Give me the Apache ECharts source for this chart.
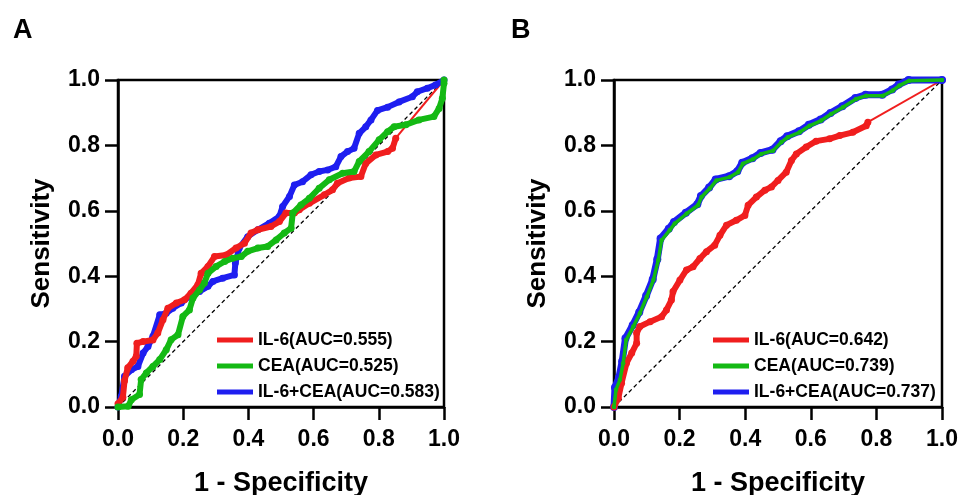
<!DOCTYPE html>
<html>
<head>
<meta charset="utf-8">
<script src="https://cdn.jsdelivr.net/npm/echarts@6/dist/echarts.min.js"></script>
<style>
html, body { margin: 0; background: #fff; }
#main { width: 960px; height: 495px; }
</style>
</head>
<body>
<div id="main"></div>
<script>
// tick values shared by both axes of both panels
const ticks = [0.0, 0.2, 0.4, 0.6, 0.8, 1.0]

// panel A legend names
const namesA = ['IL-6(AUC=0.555)', 'CEA(AUC=0.525)', 'IL-6+CEA(AUC=0.583)']
// panel B legend names
const namesB = ['IL-6(AUC=0.642)', 'CEA(AUC=0.739)', 'IL-6+CEA(AUC=0.737)']

// ROC points, [1 - specificity, sensitivity]
const il6A = [[0, 0.01], [0.015, 0.03], [0.02, 0.08], [0.03, 0.12], [0.046, 0.14], [0.056, 0.155], [0.058, 0.195],
  [0.077, 0.2], [0.107, 0.205], [0.122, 0.226], [0.138, 0.267], [0.153, 0.302], [0.179, 0.318], [0.204, 0.328],
  [0.224, 0.348], [0.245, 0.374], [0.255, 0.409], [0.276, 0.43], [0.296, 0.46], [0.332, 0.465], [0.362, 0.486],
  [0.388, 0.501], [0.408, 0.532], [0.429, 0.542], [0.469, 0.552], [0.495, 0.567], [0.515, 0.593], [0.541, 0.593],
  [0.556, 0.603], [0.587, 0.623], [0.633, 0.649], [0.658, 0.664], [0.673, 0.684], [0.709, 0.7], [0.745, 0.705],
  [0.76, 0.745], [0.791, 0.771], [0.827, 0.781], [0.842, 0.791], [0.852, 0.822]]
const il6TailA = [[0.852, 0.822], [1, 1]]
const ceaA = [[0, 0], [0.031, 0.002], [0.041, 0.022], [0.066, 0.038], [0.071, 0.084], [0.087, 0.104], [0.107, 0.124],
  [0.128, 0.145], [0.148, 0.175], [0.163, 0.206], [0.184, 0.221], [0.199, 0.277], [0.219, 0.297], [0.23, 0.333],
  [0.25, 0.358], [0.265, 0.379], [0.276, 0.409], [0.301, 0.43], [0.327, 0.445], [0.352, 0.455], [0.378, 0.46],
  [0.398, 0.476], [0.429, 0.486], [0.459, 0.491], [0.485, 0.511], [0.51, 0.532], [0.531, 0.547], [0.536, 0.593],
  [0.561, 0.618], [0.587, 0.638], [0.617, 0.669], [0.648, 0.695], [0.689, 0.715], [0.724, 0.72], [0.74, 0.751],
  [0.77, 0.781], [0.801, 0.817], [0.827, 0.842], [0.847, 0.857], [0.883, 0.863], [0.923, 0.878], [0.969, 0.888],
  [0.985, 0.913], [0.995, 0.944], [1, 0.99], [1, 1]]
const bothA = [[0, 0], [0.01, 0.033], [0.02, 0.094], [0.041, 0.114], [0.061, 0.124], [0.077, 0.165], [0.092, 0.185],
  [0.107, 0.216], [0.128, 0.282], [0.148, 0.287], [0.168, 0.302], [0.194, 0.318], [0.224, 0.343], [0.25, 0.353],
  [0.276, 0.369], [0.291, 0.384], [0.321, 0.394], [0.357, 0.404], [0.36, 0.44], [0.372, 0.486], [0.398, 0.521],
  [0.429, 0.542], [0.464, 0.562], [0.495, 0.583], [0.505, 0.613], [0.526, 0.644], [0.541, 0.679], [0.566, 0.689],
  [0.592, 0.71], [0.617, 0.72], [0.643, 0.725], [0.668, 0.735], [0.684, 0.766], [0.704, 0.781], [0.724, 0.791],
  [0.74, 0.837], [0.76, 0.857], [0.776, 0.878], [0.796, 0.907], [0.827, 0.917], [0.862, 0.933], [0.903, 0.949],
  [0.918, 0.964], [0.949, 0.975], [0.974, 0.985], [1, 1]]

const il6B = [[0, 0], [0.013, 0.027], [0.023, 0.073], [0.038, 0.134], [0.054, 0.165], [0.069, 0.195], [0.069, 0.226],
  [0.079, 0.246], [0.11, 0.261], [0.145, 0.276], [0.16, 0.297], [0.175, 0.327], [0.18, 0.353], [0.201, 0.388],
  [0.221, 0.419], [0.241, 0.429], [0.262, 0.454], [0.282, 0.475], [0.307, 0.495], [0.323, 0.525], [0.343, 0.556],
  [0.373, 0.571], [0.399, 0.586], [0.409, 0.617], [0.434, 0.642], [0.46, 0.663], [0.48, 0.673], [0.5, 0.693],
  [0.525, 0.718], [0.541, 0.754], [0.556, 0.774], [0.586, 0.795], [0.616, 0.813], [0.657, 0.82], [0.688, 0.83],
  [0.728, 0.84], [0.769, 0.86], [0.774, 0.871]]
const il6TailB = [[0.774, 0.871], [1, 1]]
const ceaB = [[0, 0], [0.006, 0.053], [0.018, 0.083], [0.028, 0.134], [0.037, 0.205], [0.059, 0.246], [0.079, 0.287],
  [0.1, 0.337], [0.12, 0.388], [0.135, 0.449], [0.145, 0.51], [0.17, 0.541], [0.185, 0.561], [0.221, 0.591],
  [0.256, 0.617], [0.267, 0.642], [0.292, 0.668], [0.312, 0.693], [0.353, 0.703], [0.378, 0.718], [0.393, 0.744],
  [0.424, 0.758], [0.449, 0.774], [0.485, 0.784], [0.51, 0.81], [0.53, 0.825], [0.566, 0.84], [0.596, 0.86],
  [0.632, 0.876], [0.662, 0.896], [0.698, 0.917], [0.738, 0.942], [0.769, 0.952], [0.82, 0.952], [0.85, 0.968],
  [0.87, 0.983], [0.9, 0.998], [1, 1]]
const bothB = [[0, 0], [0.003, 0.06], [0.015, 0.09], [0.025, 0.14], [0.035, 0.21], [0.057, 0.25], [0.077, 0.29],
  [0.098, 0.34], [0.118, 0.39], [0.132, 0.452], [0.142, 0.515], [0.167, 0.545], [0.183, 0.566], [0.219, 0.594],
  [0.254, 0.62], [0.265, 0.645], [0.29, 0.671], [0.31, 0.696], [0.351, 0.706], [0.376, 0.721], [0.391, 0.747],
  [0.422, 0.761], [0.447, 0.777], [0.483, 0.787], [0.508, 0.813], [0.528, 0.828], [0.564, 0.843], [0.594, 0.863],
  [0.63, 0.879], [0.66, 0.899], [0.696, 0.92], [0.736, 0.945], [0.767, 0.955], [0.818, 0.955], [0.848, 0.971],
  [0.868, 0.986], [0.898, 1], [1, 1]]

const diagonal = [[0, 0], [1, 1]]

const RED = '#f01e1e'
const GREEN = '#14b914'
const BLUE = '#1e1ef0'
const FONT = '"Liberation Sans", Arial, sans-serif'

const chart = echarts.init(document.getElementById('main'))

function xAxisFor (i) {
  return {
    type: 'value',
    gridIndex: i,
    min: ticks[0],
    max: ticks[ticks.length - 1],
    interval: ticks[1] - ticks[0],
    name: '1 - Specificity',
    nameLocation: 'middle',
    nameGap: 63,
    nameTextStyle: { fontSize: 27, fontWeight: 'bold', color: '#000', fontFamily: FONT },
    axisLine: { show: true, onZero: false, lineStyle: { color: '#000', width: 2.5 } },
    axisTick: { show: true, length: 13, lineStyle: { color: '#000', width: 2.5 } },
    axisLabel: { margin: 21, fontSize: 23, fontWeight: 'bold', color: '#000', fontFamily: FONT, formatter: v => v.toFixed(1) },
    splitLine: { show: false }
  }
}

function yAxisFor (i) {
  return {
    type: 'value',
    gridIndex: i,
    min: ticks[0],
    max: ticks[ticks.length - 1],
    interval: ticks[1] - ticks[0],
    name: 'Sensitivity',
    nameLocation: 'middle',
    nameGap: 63,
    nameTextStyle: { fontSize: 26, fontWeight: 'bold', color: '#000', fontFamily: FONT },
    axisLine: { show: true, onZero: false, lineStyle: { color: '#000', width: 2.5 } },
    axisTick: { show: true, length: 13, lineStyle: { color: '#000', width: 2.5 } },
    axisLabel: { margin: 18, fontSize: 23, fontWeight: 'bold', color: '#000', fontFamily: FONT, formatter: v => v.toFixed(1) },
    splitLine: { show: false }
  }
}

function curve (name, data, color, gi, width, z) {
  return {
    name: name,
    type: 'line',
    xAxisIndex: gi,
    yAxisIndex: gi,
    data: data,
    color: color,
    symbol: 'circle',
    symbolSize: width + 1,
    itemStyle: { color: color },
    lineStyle: { color: color, width: width, join: 'round', cap: 'round' },
    clip: false,
    z: z
  }
}

function tail (data, gi) {
  return {
    type: 'line',
    xAxisIndex: gi,
    yAxisIndex: gi,
    data: data,
    symbol: 'none',
    lineStyle: { color: RED, width: 2 },
    z: 3
  }
}

function dashed (gi) {
  return {
    type: 'line',
    xAxisIndex: gi,
    yAxisIndex: gi,
    data: diagonal,
    symbol: 'none',
    lineStyle: { color: '#000', width: 1.3, type: [4, 3] },
    z: 2
  }
}

function legendFor (names, left) {
  return {
    data: names,
    left: left,
    top: 326,
    orient: 'vertical',
    icon: 'rect',
    itemWidth: 36,
    itemHeight: 5,
    itemGap: 8,
    selectedMode: false,
    textStyle: { fontSize: 17.5, fontWeight: 'bold', color: '#000', fontFamily: FONT }
  }
}

const option = {
  animation: false,
  backgroundColor: '#fff',
  title: [
    { text: 'A', left: 8, top: 12, textStyle: { fontSize: 27, fontWeight: 'bold', color: '#000', fontFamily: FONT } },
    { text: 'B', left: 506, top: 12, textStyle: { fontSize: 27, fontWeight: 'bold', color: '#000', fontFamily: FONT } }
  ],
  grid: [
    { left: 118, top: 80, width: 326, height: 327, show: true, borderColor: '#000', borderWidth: 2.5, outerBoundsMode: 'none', containLabel: false },
    { left: 614, top: 80, width: 328, height: 327, show: true, borderColor: '#000', borderWidth: 2.5, outerBoundsMode: 'none', containLabel: false }
  ],
  xAxis: [xAxisFor(0), xAxisFor(1)],
  yAxis: [yAxisFor(0), yAxisFor(1)],
  legend: [legendFor(namesA, 212), legendFor(namesB, 708)],
  series: [
    dashed(0),
    curve(namesA[2], bothA, BLUE, 0, 6, 4),
    tail(il6TailA, 0),
    curve(namesA[0], il6A, RED, 0, 6, 5),
    curve(namesA[1], ceaA, GREEN, 0, 6, 6),
    dashed(1),
    tail(il6TailB, 1),
    curve(namesB[0], il6B, RED, 1, 6, 5),
    curve(namesB[2], bothB, BLUE, 1, 7, 4),
    curve(namesB[1], ceaB, GREEN, 1, 3.5, 6)
  ]
}

chart.setOption(option)
</script>
</body>
</html>
